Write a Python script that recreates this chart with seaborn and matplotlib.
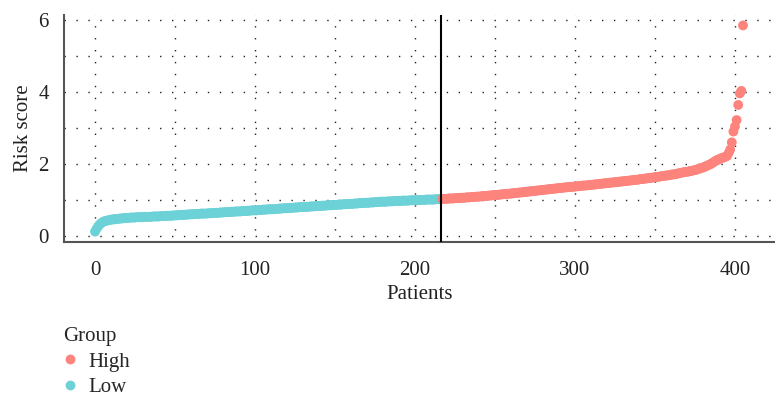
import matplotlib
matplotlib.use("Agg")
import matplotlib.pyplot as plt
import seaborn as sns
import pandas as pd
import numpy as np

# Sorted risk scores, low-risk group (patients 0-216)
low_scores = [
    0.12, 0.20, 0.27, 0.32, 0.36, 0.39, 0.41, 0.42, 0.43, 0.44,
    0.45, 0.46, 0.46, 0.47, 0.47, 0.48, 0.48, 0.49, 0.49, 0.50,
    0.50, 0.50, 0.51, 0.51, 0.51, 0.51, 0.52, 0.52, 0.52, 0.52,
    0.52, 0.53, 0.53, 0.53, 0.53, 0.53, 0.54, 0.54, 0.54, 0.54,
    0.54, 0.55, 0.55, 0.55, 0.55, 0.56, 0.56, 0.56, 0.56, 0.57,
    0.57, 0.57, 0.58, 0.58, 0.58, 0.58, 0.59, 0.59, 0.59, 0.60,
    0.60, 0.60, 0.61, 0.61, 0.61, 0.61, 0.62, 0.62, 0.62, 0.62,
    0.62, 0.63, 0.63, 0.63, 0.64, 0.64, 0.64, 0.64, 0.65, 0.65,
    0.65, 0.66, 0.66, 0.66, 0.66, 0.67, 0.67, 0.67, 0.68, 0.68,
    0.68, 0.68, 0.69, 0.69, 0.69, 0.70, 0.70, 0.70, 0.71, 0.71,
    0.71, 0.71, 0.72, 0.72, 0.72, 0.73, 0.73, 0.73, 0.74, 0.74,
    0.74, 0.74, 0.75, 0.75, 0.75, 0.76, 0.76, 0.76, 0.77, 0.77,
    0.77, 0.77, 0.78, 0.78, 0.78, 0.79, 0.79, 0.79, 0.80, 0.80,
    0.80, 0.80, 0.81, 0.81, 0.81, 0.82, 0.82, 0.82, 0.83, 0.83,
    0.83, 0.83, 0.84, 0.84, 0.84, 0.85, 0.85, 0.85, 0.86, 0.86,
    0.86, 0.86, 0.87, 0.87, 0.87, 0.88, 0.88, 0.88, 0.89, 0.89,
    0.89, 0.89, 0.90, 0.90, 0.90, 0.91, 0.91, 0.91, 0.92, 0.92,
    0.92, 0.92, 0.93, 0.93, 0.93, 0.94, 0.94, 0.94, 0.95, 0.95,
    0.95, 0.95, 0.95, 0.96, 0.96, 0.96, 0.96, 0.97, 0.97, 0.97,
    0.97, 0.97, 0.98, 0.98, 0.98, 0.98, 0.98, 0.99, 0.99, 0.99,
    0.99, 0.99, 1.00, 1.00, 1.00, 1.00, 1.00, 1.01, 1.01, 1.01,
    1.01, 1.01, 1.01, 1.02, 1.02, 1.02, 1.02,
]

# Sorted risk scores, high-risk group (patients 217-405)
high_scores = [
    1.03, 1.03, 1.03, 1.03, 1.04, 1.04, 1.04, 1.04, 1.05, 1.05,
    1.05, 1.05, 1.06, 1.06, 1.06, 1.07, 1.07, 1.07, 1.08, 1.08,
    1.08, 1.09, 1.09, 1.09, 1.10, 1.10, 1.11, 1.11, 1.11, 1.12,
    1.12, 1.13, 1.13, 1.13, 1.14, 1.14, 1.15, 1.15, 1.16, 1.16,
    1.17, 1.17, 1.17, 1.18, 1.18, 1.19, 1.19, 1.20, 1.20, 1.21,
    1.21, 1.22, 1.22, 1.23, 1.23, 1.24, 1.24, 1.25, 1.25, 1.26,
    1.26, 1.27, 1.27, 1.28, 1.28, 1.29, 1.29, 1.30, 1.30, 1.31,
    1.31, 1.32, 1.32, 1.33, 1.33, 1.34, 1.34, 1.35, 1.35, 1.36,
    1.36, 1.36, 1.37, 1.37, 1.38, 1.38, 1.39, 1.39, 1.40, 1.40,
    1.40, 1.41, 1.41, 1.42, 1.42, 1.43, 1.43, 1.44, 1.44, 1.45,
    1.45, 1.46, 1.46, 1.47, 1.47, 1.48, 1.48, 1.49, 1.49, 1.50,
    1.50, 1.51, 1.51, 1.52, 1.52, 1.53, 1.53, 1.54, 1.54, 1.55,
    1.55, 1.56, 1.56, 1.57, 1.58, 1.58, 1.59, 1.59, 1.60, 1.61,
    1.61, 1.62, 1.62, 1.63, 1.64, 1.64, 1.65, 1.66, 1.66, 1.67,
    1.68, 1.68, 1.69, 1.70, 1.71, 1.71, 1.72, 1.73, 1.74, 1.75,
    1.76, 1.77, 1.78, 1.78, 1.79, 1.80, 1.81, 1.82, 1.83, 1.84,
    1.86, 1.87, 1.89, 1.90, 1.92, 1.94, 1.96, 1.98, 2.00, 2.03,
    2.06, 2.09, 2.11, 2.13, 2.15, 2.17, 2.18, 2.20, 2.22, 2.30,
    2.40, 2.60, 2.90, 3.04, 3.22, 3.64, 3.96, 4.03, 5.85,
]

groups = ["High", "Low"]
group_colors = ["#FC847C", "#6CD2D8"]
x_ticks = [0, 100, 200, 300, 400]
y_ticks = [0, 2, 4, 6]
cutoff_position = 216.5

scores = low_scores + high_scores
df = pd.DataFrame({
    "Patients": np.arange(len(scores)),
    "Risk score": scores,
    "Group": ["Low"] * len(low_scores) + ["High"] * len(high_scores),
})

sns.set_style("white")
plt.rcParams["font.family"] = ["Liberation Serif", "DejaVu Serif"]
plt.rcParams["font.size"] = 15

fig = plt.figure(figsize=(7.75, 4.0), dpi=100)
ax = fig.add_axes([0.0826, 0.395, 0.9174, 0.5675])

grid_style = dict(color="#222222", linewidth=1.0, linestyle=(0, (1, 7.6)))
for xv in [0, 50, 100, 150, 200, 250, 300, 350, 400]:
    ax.axvline(xv, zorder=0, **grid_style)
for yv in [0, 1, 2, 3, 4, 5, 6]:
    ax.axhline(yv, zorder=0, **grid_style)

sns.scatterplot(
    data=df, x="Patients", y="Risk score", hue="Group",
    hue_order=groups, palette=group_colors,
    s=50, linewidth=0, edgecolor="none", ax=ax, legend=True, zorder=3,
)

ax.axvline(cutoff_position, color="black", linewidth=1.5, zorder=4)

ax.set_xlim(-19.4, 425.0)
ax.set_ylim(-0.17, 6.14)
ax.set_xticks(x_ticks)
ax.set_yticks(y_ticks)
ax.set_xticklabels([str(v) for v in x_ticks])
ax.set_yticklabels([str(v) for v in y_ticks])
ax.tick_params(axis="both", direction="out", length=6, width=1.5,
               color="black", labelsize=15, labelcolor="#222222", pad=5)
ax.tick_params(axis="x", pad=8)
ax.set_xlabel("Patients", fontsize=15, color="#222222", labelpad=3)
ax.set_ylabel("Risk score", fontsize=15, color="#222222", labelpad=4)

for side in ["top", "right"]:
    ax.spines[side].set_visible(False)
for side in ["left", "bottom"]:
    ax.spines[side].set_color("#555555")
    ax.spines[side].set_linewidth(1.5)

handles, labels = ax.get_legend_handles_labels()
ax.get_legend().remove()
leg = fig.legend(
    handles, labels, title="Group", loc="upper left",
    bbox_to_anchor=(0.082, 0.183), frameon=False, fontsize=15,
    title_fontsize=15, handlelength=0.6, handletextpad=0.6,
    labelspacing=0.3, borderaxespad=0, borderpad=0, markerscale=1.0,
)
leg._legend_box.align = "left"

fig.savefig("out.png", dpi=100)
